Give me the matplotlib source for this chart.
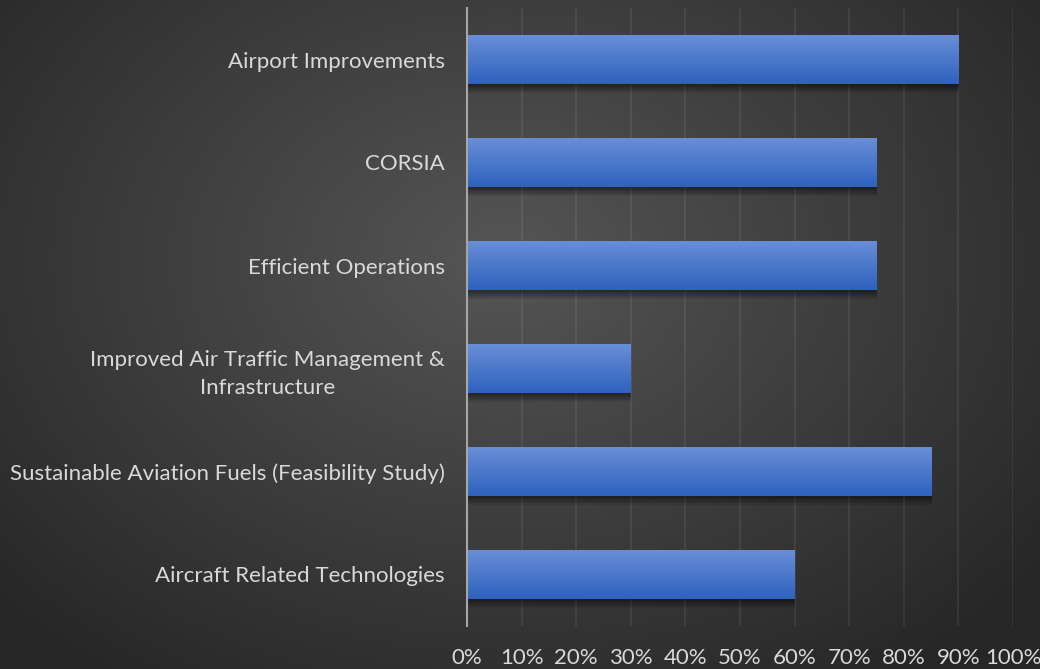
import matplotlib
matplotlib.use('Agg')
import matplotlib.pyplot as plt
import matplotlib.patheffects as pe
import numpy as np

# 数据
categories = ['Airport Improvements', 'CORSIA', 'Efficient Operations',
              'Improved Air Traffic Management &\nInfrastructure',
              'Sustainable Aviation Fuels (Feasibility Study)',
              'Aircraft Related Technologies']
values = [90, 75, 75, 30, 85, 60]
x_ticks = [0, 10, 20, 30, 40, 50, 60, 70, 80, 90, 100]
x_tick_labels = ['0%', '10%', '20%', '30%', '40%', '50%', '60%', '70%', '80%', '90%', '100%']

plt.rcParams['font.family'] = ['Lato', 'DejaVu Sans']

fig = plt.figure(figsize=(10.4, 6.69), dpi=100)

# 背景径向渐变
bg = fig.add_axes([0, 0, 1, 1])
bg.set_axis_off()
yy, xx = np.mgrid[0:669, 0:1040]
r = np.sqrt(((xx - 500) / 560.0) ** 2 + ((yy - 260) / 420.0) ** 2)
shade = np.clip(0.335 - 0.15 * r, 0.15, 0.34)
bg.imshow(np.dstack([shade, shade, shade]), extent=[0, 1, 0, 1], aspect='auto', origin='upper')
bg.set_xlim(0, 1)
bg.set_ylim(0, 1)

ax = fig.add_axes([467 / 1040, 1 - 626 / 669, (1013 - 467) / 1040, (626 - 8) / 669])
ax.patch.set_alpha(0)

y = np.arange(len(categories))
shadow = [pe.SimplePatchShadow(offset=(0.5, -d), shadow_rgbFace='black', alpha=0.09) for d in (1, 2, 3, 4, 5, 6)]
bars = ax.barh(y, values, height=0.48, color='#4472c4', zorder=3,
               path_effects=shadow + [pe.Normal()])

# 柱子渐变
grad = np.linspace(0, 1, 100).reshape(-1, 1)
top = np.array([0x6a, 0x8f, 0xd8]) / 255
bot = np.array([0x2e, 0x62, 0xbe]) / 255
img = (top[None, None, :] * (1 - grad[..., None]) + bot[None, None, :] * grad[..., None])
for bar in bars:
    x0, y0 = bar.get_x(), bar.get_y()
    w, h = bar.get_width(), bar.get_height()
    im = ax.imshow(img, extent=[x0, x0 + w, y0 + h, y0], aspect='auto', zorder=4, origin='upper')
    im.set_clip_path(bar)

ax.set_xlim(0, 100)
ax.set_ylim(len(categories) - 0.5, -0.5)
ax.set_xticks(x_ticks)
ax.set_xticklabels(x_tick_labels)
ax.set_yticks(y)
ax.set_yticklabels(categories, ha='right', multialignment='center', linespacing=1.45)
ax.tick_params(axis='both', length=0, colors='#d9d9d9', labelsize=16)
ax.tick_params(axis='x', pad=16)
ax.tick_params(axis='y', pad=16)

ax.grid(True, axis='x', color='white', alpha=0.07, linewidth=1.5, zorder=1)
for s in ['top', 'right', 'bottom']:
    ax.spines[s].set_visible(False)
ax.spines['left'].set_color('#a6a6a6')
ax.spines['left'].set_linewidth(1.5)
ax.spines['left'].set_zorder(5)

fig.savefig('out.png', dpi=100)
